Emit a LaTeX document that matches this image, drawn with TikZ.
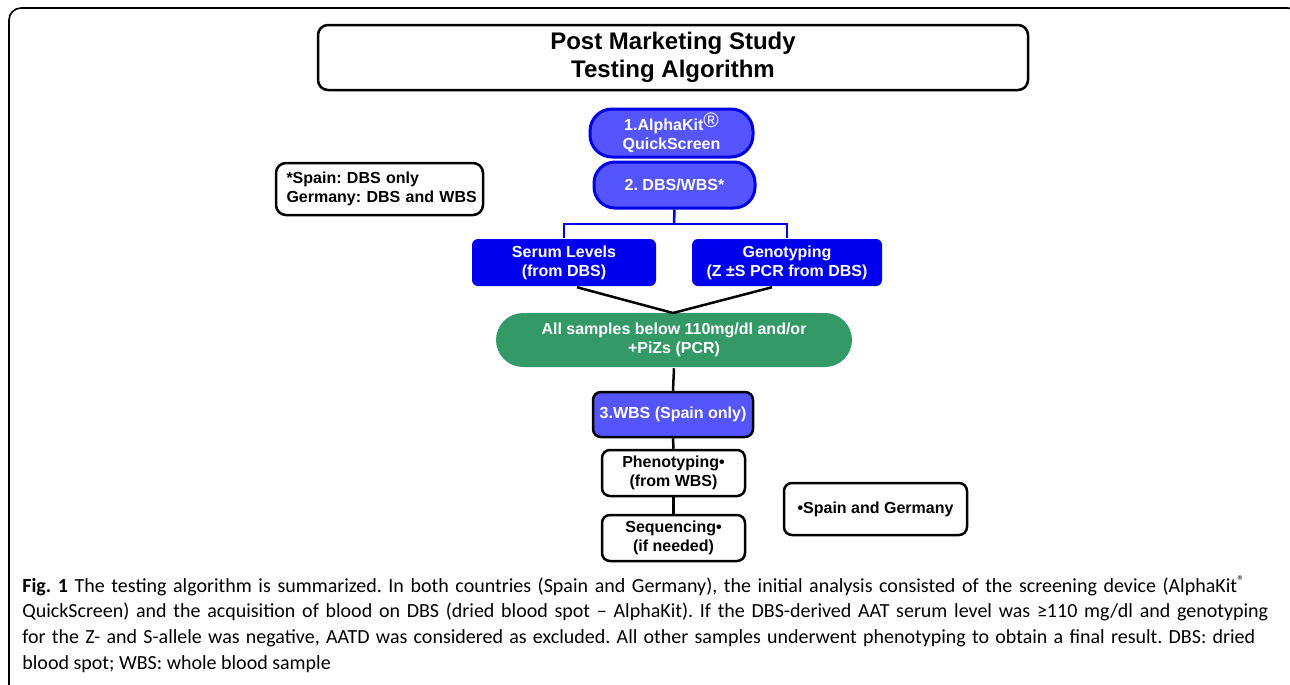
\documentclass[tikz,border=0pt]{standalone}
\usepackage{fontspec}
\setmainfont{Liberation Sans}
\newfontfamily\capfont{Carlito}
\frenchspacing
\definecolor{lblue}{RGB}{85,85,255}
\definecolor{bblue}{RGB}{0,0,230}
\definecolor{dblue}{RGB}{0,0,238}
\definecolor{mgreen}{RGB}{51,153,102}
\tikzset{
  box/.style={draw, line width=1.25pt, rounded corners=4pt, inner sep=0pt, align=center,
    font=\bfseries\fontsize{8}{9.5}\selectfont},
  pillbox/.style={box, draw=bblue, fill=lblue, text=white, line width=1.5pt},
  bluebox/.style={box, draw=none, fill=dblue, text=white, rounded corners=3pt},
  greenbox/.style={box, draw=none, fill=mgreen, text=white, rounded corners=13.5pt},
  wbox/.style={box, fill=white},
  conn/.style={line width=1.25pt},
  bconn/.style={line width=1.25pt, draw=bblue},
  capline/.style={anchor=west, inner sep=0pt, font=\capfont\fontsize{10}{13}\selectfont}
}
\newcommand{\regmark}{{\fontsize{10.5}{10.5}\selectfont\mdseries\raisebox{1.6pt}{®}}}
\begin{document}
\begin{tikzpicture}[x=0.5pt,y=-0.5pt]
\useasboundingbox (0,0) rectangle (1290,685);
\begin{scope}
\clip (0,0) rectangle (1290,685);
\draw[line width=0.8pt, rounded corners=6pt] (9,8) rectangle (1300,720);
\end{scope}
% title
\node[box, rounded corners=5pt, minimum width=355pt, minimum height=32.5pt,
  font=\bfseries\fontsize{12}{14}\selectfont] (title) at (673,57.5)
  {Post Marketing Study\\Testing Algorithm};
% step nodes
\node[pillbox, rounded corners=11pt, minimum width=81.5pt, minimum height=24pt] (alpha) at (671.5,133)
  {1.AlphaKit\regmark\\QuickScreen};
\node[pillbox, rounded corners=10.5pt, minimum width=80.5pt, minimum height=23pt] (dbs) at (674.5,185)
  {2. DBS/WBS*};
\node[wbox, rounded corners=5pt, minimum width=103.5pt, minimum height=26pt, text width=99pt,
  align=left, inner xsep=2.25pt] (note) at (379.5,189)
  {\hspace*{3pt}*Spain: DBS only\\\hspace*{3pt}Germany: DBS and WBS};
\node[bluebox, minimum width=92pt, minimum height=23.5pt] (serum) at (564,262.5)
  {Serum Levels\\(from DBS)};
\node[bluebox, minimum width=95pt, minimum height=23.5pt] (geno) at (787,262.5)
  {Genotyping\\(Z ±S PCR from DBS)};
\node[greenbox, minimum width=178pt, minimum height=27pt] (green) at (674,340)
  {All samples below 110mg/dl and/or\\+PiZs (PCR)};
\node[box, fill=lblue, text=white, minimum width=80pt, minimum height=22.5pt] (wbs) at (673,414.5)
  {3.WBS (Spain only)};
\node[wbox, minimum width=71.5pt, minimum height=23pt] (pheno) at (673.5,473)
  {Phenotyping•\\(from WBS)};
\node[wbox, minimum width=71.5pt, minimum height=23pt] (seq) at (673.5,538)
  {Sequencing•\\(if needed)};
\node[wbox, minimum width=91.5pt, minimum height=26pt] (sg) at (875.5,509)
  {•Spain and Germany};
% connectors
\coordinate (split) at (674,224);
\draw[bconn] (dbs.south) -- (split);
\draw[bconn] (serum.north) |- (split) -| (geno.north);
\coordinate (gtop) at (673,313);
\draw[conn] ([xshift=6.5pt]serum.south) -- (gtop);
\draw[conn] ([xshift=-7.5pt]geno.south) -- (gtop);
\draw[conn] (green.south) -- (wbs.north);
\draw[conn] (wbs.south) -- (pheno.north);
\draw[conn] (pheno.south) -- (seq.north);
% caption
\node[capline] (c1) at (22,586) {\makebox[611.5pt][s]{\textbf{Fig. 1} The testing algorithm is summarized. In both countries (Spain and Germany), the initial analysis consisted of the screening device (AlphaKit\textsuperscript{®}}};
\node[capline] (c2) at (22,612) {\makebox[623pt][s]{QuickScreen) and the acquisition of blood on DBS (dried blood spot – AlphaKit). If the DBS-derived AAT serum level was ≥110 mg/dl and genotyping}};
\node[capline] (c3) at (22,638) {\makebox[616.5pt][s]{for the Z- and S-allele was negative, AATD was considered as excluded. All other samples underwent phenotyping to obtain a final result. DBS: dried}};
\node[capline] (c4) at (22,664) {blood spot; WBS: whole blood sample};
\end{tikzpicture}
\end{document}
